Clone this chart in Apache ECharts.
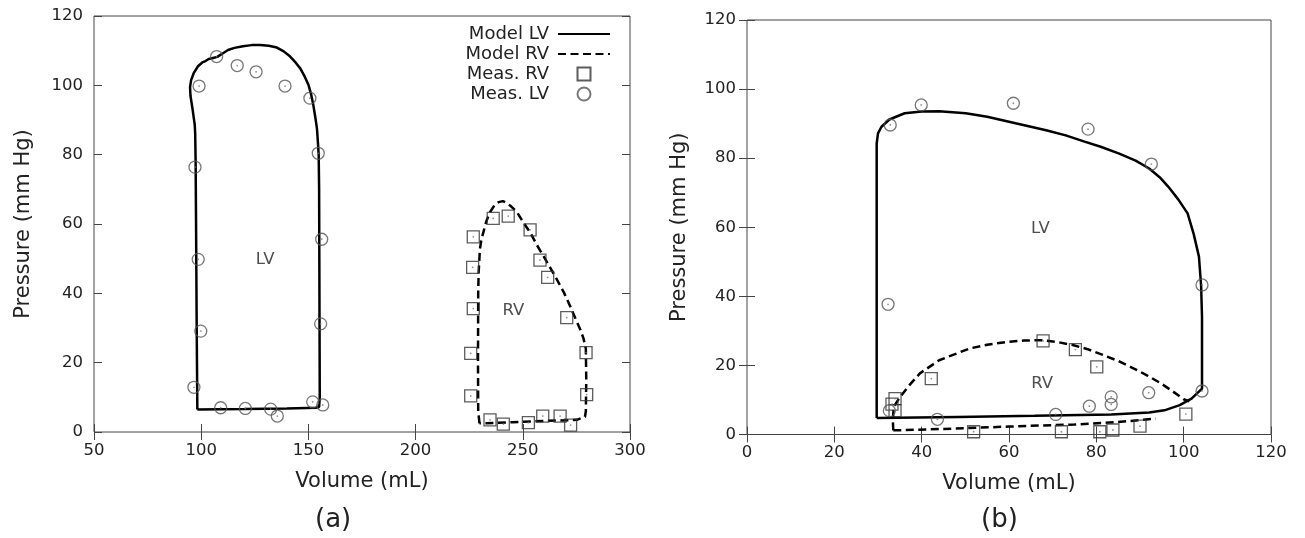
<!DOCTYPE html>
<html><head><meta charset="utf-8">
<script src="https://cdn.jsdelivr.net/npm/echarts@6/dist/echarts.min.js"></script>
<style>html,body{margin:0;padding:0;background:#fff}#c{width:1305px;height:538px}</style>
</head><body><div id="c"></div>
<script>
// ---------- Panel (a) data ----------
const lvA_model = [[98.2,6.5],[97.9,30],[97.6,60],[97.4,78],[97.2,86],[97,88.5],[96,93],[95,97],[94.8,99.5],[95.3,101.5],[96.5,103.5],[98.5,105.5],[100.5,106.6],[102,107],[103.5,107.6],[105.5,107.9],[107.5,108.2],[110,109.2],[112.5,110.2],[115.5,110.8],[119.5,111.3],[123.5,111.6],[127.5,111.6],[131.5,111.4],[135.3,110.9],[138.5,109.8],[141.5,108.3],[144,106.6],[146.2,104.9],[148.3,102.5],[150.1,100],[151.3,97.3],[152.3,94.3],[153.3,90.5],[154,87.5],[154.5,83],[154.8,79.8],[155,70],[155.1,50],[155.2,30],[155.3,10],[155,7.2],[153.5,7.0],[140,6.8],[120,6.6],[98.2,6.5]];
const rvA_model = [[229.8,2.5],[229.2,6],[229.1,20],[229.2,40],[229.4,46],[230,52.8],[230.7,55.5],[231.6,57.6],[233,60.8],[234.7,63.4],[236.7,65.3],[238.7,66.3],[240.7,66.6],[242.5,66.1],[244.5,65.1],[247.2,63.5],[250.2,60.5],[253.4,57.6],[256.7,53.8],[259.6,50.8],[262.7,47.5],[265.9,44],[269.2,40.2],[272.1,36.3],[274.7,32.5],[276.8,29.6],[278.3,27],[279.4,24],[279.6,15],[279.4,6],[279,4.4],[275.2,3.5],[260,3.2],[245,2.8],[231.6,2.5],[229.8,2.5]];
const lvA_meas = [[107.2,108.3],[99.0,99.8],[116.8,105.7],[125.6,103.9],[139.1,99.8],[150.7,96.3],[154.6,80.4],[97.1,76.4],[156.2,55.6],[98.6,49.8],[155.7,31.2],[99.8,29.1],[96.6,12.9],[109.1,7.0],[120.6,6.8],[132.4,6.6],[135.5,4.6],[152.0,8.7],[156.7,7.8]];
const rvA_meas = [[236.2,61.6],[243.2,62.3],[226.9,56.3],[253.4,58.3],[258.0,49.6],[226.6,47.5],[261.6,44.6],[226.9,35.6],[270.5,33.0],[225.7,22.7],[279.5,22.9],[225.7,10.4],[279.8,10.8],[234.7,3.5],[240.9,2.3],[252.6,2.7],[259.3,4.6],[267.4,4.6],[272.3,2.0]];
const labelsA = [{name:'LV', value:[129.8,49.6]},{name:'RV', value:[245.6,34.9]}];

// ---------- Panel (b) data ----------
const lvB_model = [[29.7,4.8],[29.7,30],[29.7,60],[29.7,84.3],[30,87.2],[30.8,89.1],[32.6,91.2],[36.1,93],[40,93.5],[44,93.6],[50.1,93],[55,92],[61.5,90.1],[68.5,88.1],[73,86.6],[77.3,84.8],[81,83.3],[85.1,81.4],[89,79.3],[92.1,77],[94.5,74.5],[96.5,71.7],[98.8,68],[100.9,64],[102.3,58],[103.5,51.5],[104,43],[104.2,34.1],[104.2,20],[104.2,13.3],[101.8,10.4],[99.1,8.5],[95.6,7.0],[92.1,6.4],[83.4,5.8],[65.9,5.4],[48.3,5.1],[29.7,4.8]];
const rvB_modelArch = [[33.5,1.2],[33.4,4],[33.6,8],[34.8,10.4],[37,14],[39.6,17.7],[44,21.5],[51,24.9],[55,26],[59.7,26.8],[63.5,27.2],[67.6,27.3],[71,26.8],[74.6,25.9],[78,24.7],[81.6,23],[85,21.3],[88.6,19.1],[91.8,17],[94.8,14.8],[97.5,12.5],[100,10.2],[101.3,9.6]];
const rvB_modelBase = [[33.5,1.2],[45,1.6],[60,2.3],[75,2.9],[85,3.6],[93.6,4.6]];
const lvB_meas = [[39.9,95.4],[61.0,95.9],[32.8,89.6],[78.1,88.4],[92.6,78.3],[104.2,43.3],[32.3,37.7],[104.2,12.6],[92.0,12.1],[83.4,10.9],[83.4,8.7],[78.4,8.2],[70.7,5.8],[43.6,4.4],[32.6,6.9]];
const rvB_meas = [[67.8,27.1],[75.2,24.6],[80.1,19.6],[42.2,16.2],[33.9,10.4],[33.2,8.8],[33.9,6.9],[100.5,5.9],[90.0,2.4],[51.9,0.8],[72.0,0.8],[80.8,0.8],[83.8,1.3]];
const labelsB = [{name:'LV', value:[67.2,59.7]},{name:'RV', value:[67.6,14.8]}];

// ---------- Axis ranges ----------
const xRangeA = [50, 300, 50];
const xRangeB = [0, 120, 20];
const yRange = [0, 120, 20];
const xName = 'Volume (mL)';
const yName = 'Pressure (mm Hg)';
const panelTags = ['(a)', '(b)'];

const FONT = 'DejaVu Sans';
const TXT = '#222';
const AX = '#444';

function axis(type, gi, r, pos, main, nameGap) {
  const a = {
    type: 'value', gridIndex: gi, position: pos,
    min: r[0], max: r[1], interval: r[2],
    axisLine: {show: false},
    splitLine: {show: false},
    axisTick: {show: true, inside: true, length: 8, lineStyle: {color: AX, width: 1}},
    axisLabel: {show: main, color: TXT, fontFamily: FONT, fontSize: 16.5, margin: type === 'x' ? 10 : 11}
  };
  if (main) {
    a.name = type === 'x' ? xName : yName;
    a.nameLocation = 'middle';
    a.nameGap = nameGap;
    a.nameTextStyle = {color: TXT, fontFamily: FONT, fontSize: 21};
  }
  return a;
}

const lineBase = (name, data, xi, yi, dashed) => ({
  name, type: 'line', data, xAxisIndex: xi, yAxisIndex: yi,
  symbol: 'none', showSymbol: false, smooth: false, silent: true, z: 3,
  lineStyle: {color: '#000', width: 2.5, type: dashed ? [8, 4.5] : 'solid', cap: 'butt'},
  itemStyle: {color: '#000'}
});
const scatBase = (name, data, xi, yi, sym, col) => ({
  name, type: 'scatter', data, xAxisIndex: xi, yAxisIndex: yi,
  symbol: sym, symbolSize: 12, silent: true, z: 4,
  itemStyle: {color: 'transparent', borderColor: col, borderWidth: 1.3}
});
const dotBase = (data, xi, yi) => ({
  name: 'dot', type: 'scatter', data, xAxisIndex: xi, yAxisIndex: yi,
  symbol: 'circle', symbolSize: 1.8, silent: true, z: 4,
  itemStyle: {color: '#777'}
});
const labelBase = (data, xi, yi) => ({
  name: 'lbl', type: 'scatter', data, xAxisIndex: xi, yAxisIndex: yi,
  symbolSize: 0, silent: true, z: 5,
  label: {show: true, position: 'inside', formatter: '{b}', color: TXT, fontFamily: FONT, fontSize: 16.5}
});

const hideSym = {opacity: 0, color: 'transparent', borderColor: 'transparent', borderWidth: 0};

const option = {
  animation: false,
  backgroundColor: '#fff',
  grid: [
    {left: 94, top: 16, width: 536, height: 416, show: true, borderColor: AX, borderWidth: 1, backgroundColor: 'transparent'},
    {left: 747, top: 20, width: 524, height: 414.5, show: true, borderColor: AX, borderWidth: 1, backgroundColor: 'transparent'}
  ],
  xAxis: [
    axis('x', 0, xRangeA, 'bottom', true, 39),
    axis('x', 0, xRangeA, 'top', false),
    axis('x', 1, xRangeB, 'bottom', true, 39),
    axis('x', 1, xRangeB, 'top', false)
  ],
  yAxis: [
    axis('y', 0, yRange, 'left', true, 60),
    axis('y', 0, yRange, 'right', false),
    axis('y', 1, yRange, 'left', true, 57),
    axis('y', 1, yRange, 'right', false)
  ],
  legend: {
    orient: 'vertical', align: 'right', right: 694, top: 25, padding: 0,
    itemWidth: 52, itemHeight: 13, itemGap: 2,
    textStyle: {color: TXT, fontFamily: FONT, fontSize: 18, lineHeight: 18, padding: [0, 4, 0, 0]},
    selectedMode: false,
    data: [
      {name: 'Model LV', itemStyle: hideSym},
      {name: 'Model RV', itemStyle: hideSym},
      {name: 'Meas. RV', icon: 'path://M0,0L10,0L10,10L0,10Z'},
      'Meas. LV'
    ]
  },
  graphic: [
    {type: 'text', left: 315, top: 507, style: {text: panelTags[0], fill: TXT, font: '26px "DejaVu Sans"'}},
    {type: 'text', left: 981, top: 507, style: {text: panelTags[1], fill: TXT, font: '26px "DejaVu Sans"'}}
  ],
  series: [
    lineBase('Model LV', lvA_model, 0, 0, false),
    lineBase('Model RV', rvA_model, 0, 0, true),
    scatBase('Meas. RV', rvA_meas, 0, 0, 'rect', '#333'),
    scatBase('Meas. LV', lvA_meas, 0, 0, 'circle', '#555'),
    dotBase(rvA_meas, 0, 0), dotBase(lvA_meas, 0, 0),
    labelBase(labelsA, 0, 0),
    lineBase('Model LV', lvB_model, 2, 2, false),
    lineBase('Model RV', rvB_modelArch, 2, 2, true),
    lineBase('Model RV', rvB_modelBase, 2, 2, true),
    scatBase('Meas. RV', rvB_meas, 2, 2, 'rect', '#333'),
    scatBase('Meas. LV', lvB_meas, 2, 2, 'circle', '#555'),
    dotBase(rvB_meas, 2, 2), dotBase(lvB_meas, 2, 2),
    labelBase(labelsB, 2, 2)
  ]
};
const chart = echarts.init(document.getElementById('c'), null, {renderer: 'canvas'});
chart.setOption(option);
</script>
</body></html>
